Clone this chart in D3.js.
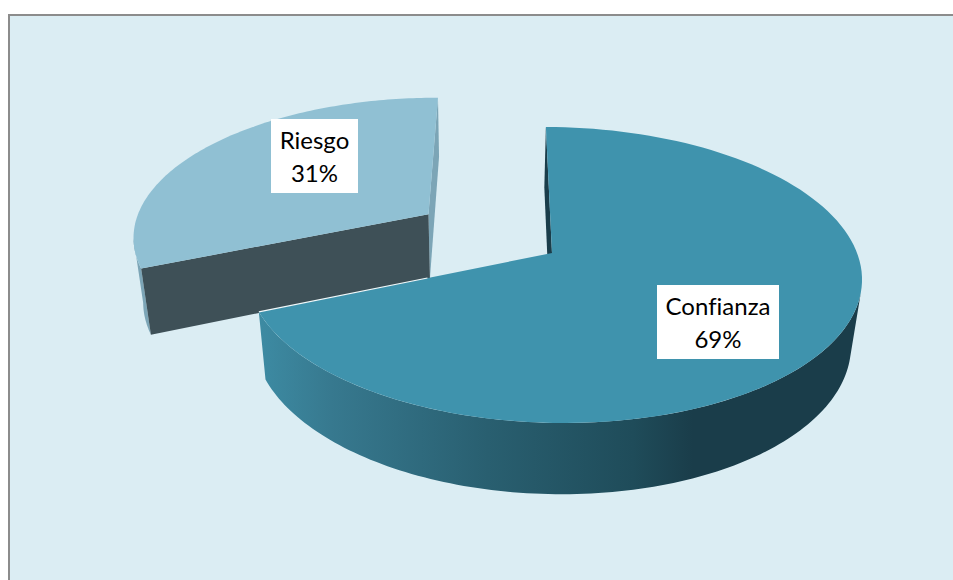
<!DOCTYPE html>
<html><head><meta charset="utf-8">
<style>html,body{margin:0;padding:0;background:#fff;overflow:hidden}svg{display:block}text{font-family:Lato,Carlito,sans-serif;font-size:24px;fill:#000;font-variant-ligatures:none}</style>
<script src="https://cdnjs.cloudflare.com/ajax/libs/d3/7.8.5/d3.min.js"></script>
</head><body><svg id="c" width="953" height="580"></svg>
<script>
const categories = ["Confianza", "Riesgo"];
const percentages = [68.6, 31.4];
const explodeBy = [0, 0.5];
const topColors = ["#3f93ad", "#90c0d3"];

const svg = d3.select("#c");
const defs = svg.append("defs");
const grad = defs.append("linearGradient").attr("id","wall").attr("gradientUnits","userSpaceOnUse")
  .attr("x1",258).attr("x2",862).attr("y1",0).attr("y2",0);
[[0,"#3d8ba3"],[0.12,"#37798f"],[0.38,"#295f70"],[0.62,"#1f4c5a"],[0.72,"#1a3d4a"],[1,"#1a3d4a"]]
  .forEach(s=>grad.append("stop").attr("offset",s[0]).attr("stop-color",s[1]));

svg.append("rect").attr("x",9).attr("y",15).attr("width",1000).attr("height",700)
  .attr("fill","#dbedf3").attr("stroke","#8c8c8c").attr("stroke-width",2);

// perspective projection of the unit disc: u right, v toward viewer, z down
function project(u,v,z){
  const w = 1 - 0.1486*v - 0.004*u + 0.029*z;
  return [(552 + 302*u - 75*v + 14*z)/w, (253 + 107.1*v + 75*z)/w];
}
const pie = d3.pie().sort(null).startAngle(0).endAngle(2*Math.PI)(percentages);
const line = d3.line();
function geom(d,i){
  const mid=(d.startAngle+d.endAngle)/2, e=explodeBy[i];
  const ox=e*Math.sin(mid), oy=-e*Math.cos(mid);
  const P=(a,z)=>project(ox+Math.sin(a),oy-Math.cos(a),z);
  const C=z=>project(ox,oy,z);
  const arc=(a0,a1,z)=>d3.range(0,121).map(k=>P(a0+(a1-a0)*k/120,z));
  return {P,C,arc};
}
function poly(pts,fill){
  return svg.append("path").attr("d",line(pts)+"Z").attr("fill",fill);
}
// Riesgo (behind)
{
  const d=pie[1], g=geom(d,1), a0=d.startAngle, a1=d.endAngle;
  poly([g.P(a1,0),g.C(0),g.C(1),g.P(a1,1)],"#7ca5b6");
  poly([...g.arc(a0,a0+0.22,0),...g.arc(a0,a0+0.22,1).reverse()],"#7ca5b6");
  poly([g.C(0),g.P(a0,0),g.P(a0,1),g.C(1)],"#3e5057");
  poly([g.C(0),...g.arc(a0,a1,0)],topColors[1]);
}
// Confianza
{
  const d=pie[0], g=geom(d,0), a0=d.startAngle, a1=d.endAngle;
  poly([g.P(a0,0),g.C(0),g.C(1),g.P(a0,1)],"#1a3d4a");
  const s=1.82;
  poly([...g.arc(s,a1,0),...g.arc(s,a1,1).reverse()],"url(#wall)");
  poly([g.C(0),...g.arc(a0,a1,0)],topColors[0]);
  svg.append("path").attr("d",line([g.P(a1,0),g.C(0)])).attr("fill","none")
    .attr("stroke","#f2fafc").attr("stroke-width",1.2).attr("stroke-dasharray","172 400");
}
// labels
const labelAt=[[718,322],[314.5,156]];
categories.forEach((c,i)=>{
  const [x,y]=labelAt[i], w=[122,87][i];
  svg.append("rect").attr("x",x-w/2).attr("y",y-37).attr("width",w).attr("height",74).attr("fill","#fff");
  svg.append("text").attr("x",x).attr("y",y-7).attr("text-anchor","middle").text(c);
  svg.append("text").attr("x",x).attr("y",y+26).attr("text-anchor","middle").text(d3.format(".0f")(percentages[i])+"%");
});
</script></body></html>
